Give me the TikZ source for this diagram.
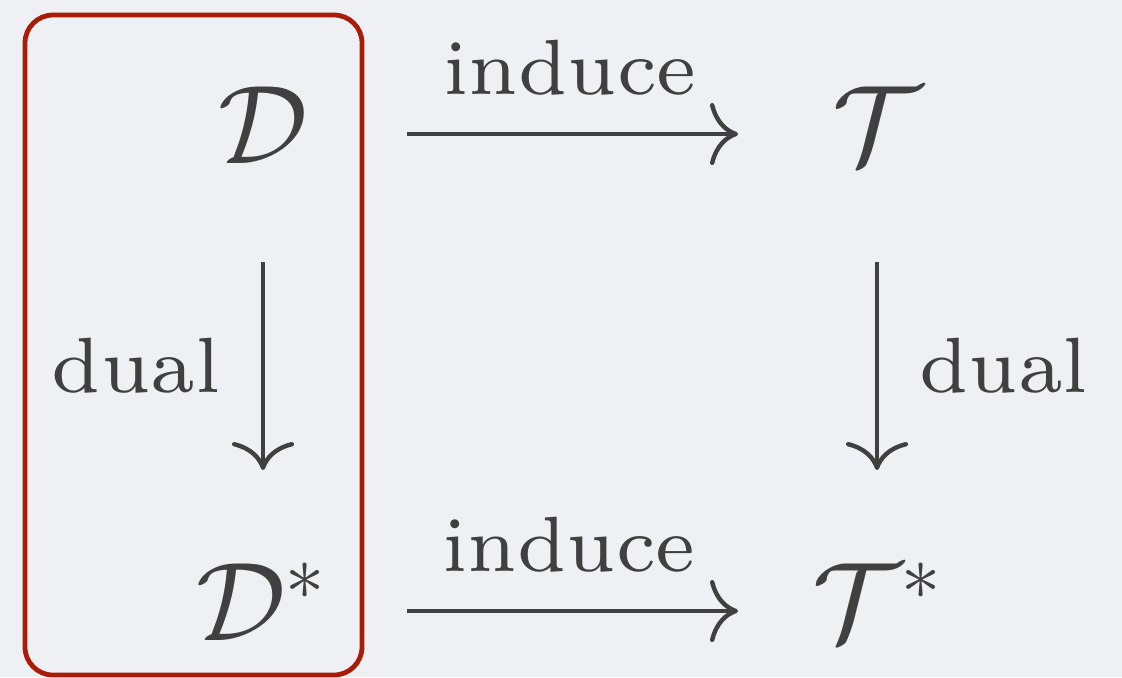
\RequirePackage{fix-cm}
\documentclass[tikz,border=0pt]{standalone}
\usepackage{fontspec}
\newfontfamily\labelfont{lmroman7-regular.otf}
\usetikzlibrary{arrows.meta}
\definecolor{bgcol}{HTML}{EFF0F3}
\definecolor{inkcol}{HTML}{404040}
\definecolor{boxcol}{HTML}{A81C08}

\begin{document}
\begin{tikzpicture}[x=0.5pt, y=-0.5pt,
  obj/.style={inner sep=0pt, anchor=base, text height=29pt, text depth=0pt,
    inkcol, font=\fontsize{56}{60}\selectfont},
  lbl/.style={inner sep=0pt, inkcol, font=\labelfont\fontsize{39.2}{44}\selectfont},
  arr/.style={inkcol, line width=2.2pt,
    -{Computer Modern Rightarrow[length=14pt, width=31pt]}}]

% --- Background and frame ---
\fill[bgcol] (0,0) rectangle (1122,677);
\useasboundingbox (0,0) rectangle (1122,677);

% --- Objects ---
\node[obj] (D)  at (263,163) {$\mathcal{D}$};
\node[obj] (T)  at (877,163) {$\mathcal{T}$};
\node[obj] (Ds) at (261,640) {$\mathcal{D}^*$};
\node[obj] (Ts) at (877,640) {$\mathcal{T}^*$};

% Horizontal arrows
\draw[arr, shorten <=72pt, shorten >=69.5pt] (D.center) -- (T.center)
  node[midway, above=18.5pt, lbl] {induce};
\draw[arr, shorten <=73pt, shorten >=69.5pt] (Ds.center) -- (Ts.center)
  node[midway, above=18.5pt, lbl] {induce};

% Vertical arrows
\draw[arr, shorten <=64pt, shorten >=70.5pt] (D.center) -- (D.center |- Ds.center)
  node[pos=0.486, left=20pt, lbl] {dual};
\draw[arr, shorten <=64pt, shorten >=70.5pt] (T.center) -- (T.center |- Ts.center)
  node[pos=0.486, right=20pt, lbl] {dual};

% Highlight box
\draw[boxcol, line width=2.4pt, rounded corners=14pt] (25,15) rectangle (362,675);

\end{tikzpicture}
\end{document}
